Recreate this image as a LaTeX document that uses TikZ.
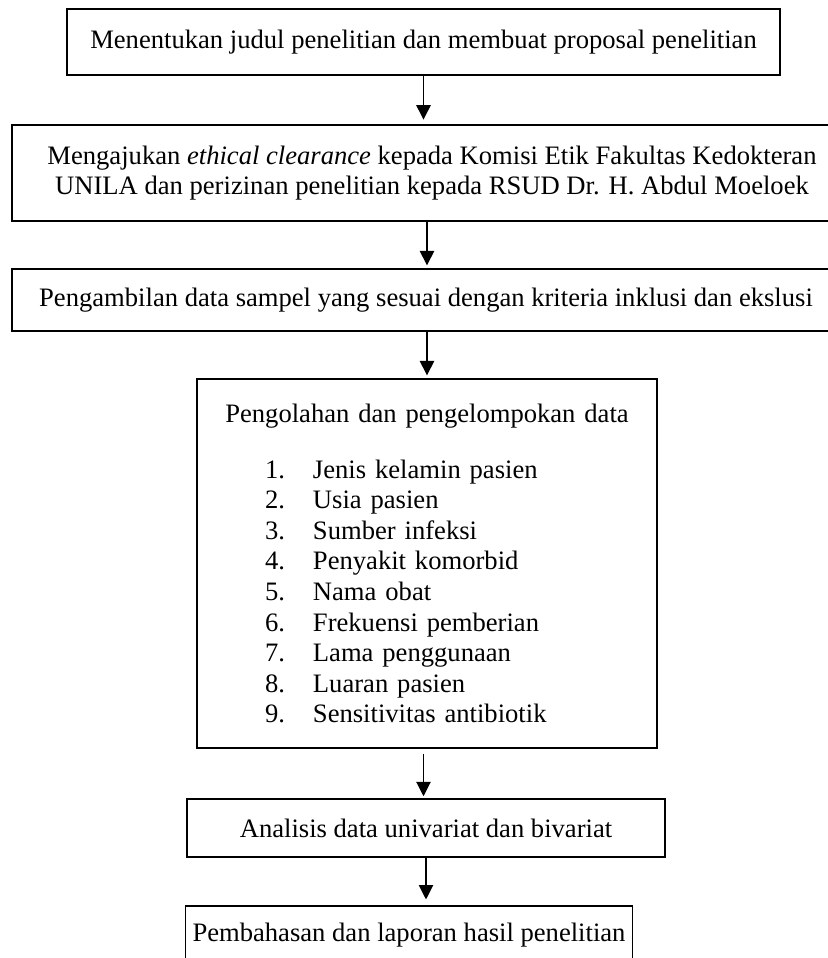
\documentclass[tikz,border=0pt]{standalone}
\usepackage{fontspec}
\setmainfont{Liberation Serif}
\usetikzlibrary{arrows.meta}

\newdimen\pxu
\pxu=0.451pt
\newdimen\olahw
\olahw=460\pxu
\newcommand{\olahitem}[2]{\makebox[\olahw][l]{\hspace*{68\pxu}\makebox[48\pxu][l]{#1.}#2}}

\begin{document}
\begin{tikzpicture}[x=0.451pt, y=-0.451pt,
		kotak/.style={draw, line width=0.5pt, align=center, font=\fontsize{12pt}{13.8pt}\selectfont},
		panah/.style={-{Triangle[length=6.5pt,width=6.5pt]}, line width=0.5pt}]

			\useasboundingbox (0,0) rectangle (827,958);

			\node[kotak, minimum width=713\pxu, minimum height=66\pxu] (judul) at (423.5,42) {Menentukan judul penelitian dan membuat proposal penelitian};

			\node[kotak, minimum width=840\pxu, minimum height=96\pxu] (etik) at (432,173) {Mengajukan \textit{ethical clearance} kepada Komisi Etik Fakultas Kedokteran\\UNILA dan perizinan penelitian kepada RSUD Dr. H. Abdul Moeloek};

			\node[kotak, minimum width=828\pxu, minimum height=62\pxu] (sampel) at (426,300) {Pengambilan data sampel yang sesuai dengan kriteria inklusi dan ekslusi};

			\node[kotak, inner xsep=0pt, text width=\olahw, minimum height=369\pxu] (olah) at (427,563.5) {Pengolahan dan pengelompokan data\\[11.5pt]
				\olahitem{1}{Jenis kelamin pasien}\\
				\olahitem{2}{Usia pasien}\\
				\olahitem{3}{Sumber infeksi}\\
				\olahitem{4}{Penyakit komorbid}\\
				\olahitem{5}{Nama obat}\\
				\olahitem{6}{Frekuensi pemberian}\\
				\olahitem{7}{Lama penggunaan}\\
				\olahitem{8}{Luaran pasien}\\
				\olahitem{9}{Sensitivitas antibiotik}};

			\node[kotak, minimum width=478\pxu, minimum height=58\pxu] (analisis) at (426,828) {Analisis data univariat dan bivariat};

			\node[kotak, minimum width=446\pxu, minimum height=58\pxu] (bahas) at (409,935) {Pembahasan dan laporan hasil penelitian};

			\draw [panah, shorten >=2.2pt] (judul.south) -- (judul.south |- etik.north);
			\draw [panah, shorten >=1.4pt] (etik.south -| olah.north) -- (sampel.north -| olah.north);
			\draw [panah, shorten >=1.4pt] (sampel.south -| olah.north) -- (olah.north);
			\draw [panah, shorten <=2.3pt, shorten >=1pt] (olah.south -| judul.south) -- (analisis.north -| judul.south);
			\draw [panah, shorten >=2.7pt] (analisis.south) -- (analisis.south |- bahas.north);

	\end{tikzpicture}
\end{document}
